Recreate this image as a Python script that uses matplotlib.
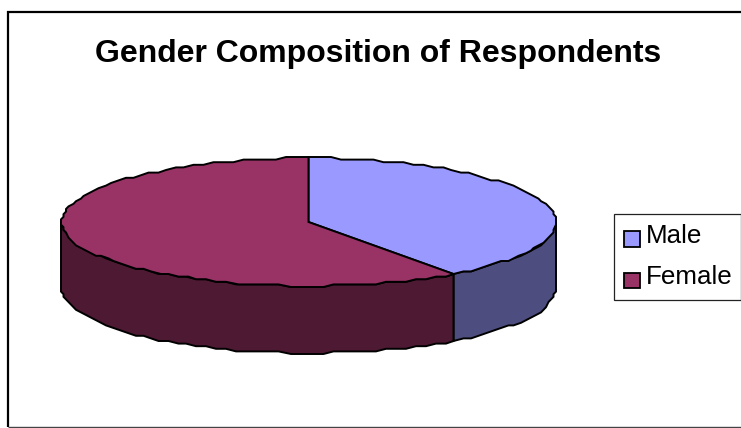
import numpy as np
import matplotlib
matplotlib.use('Agg')
import matplotlib.pyplot as plt
from matplotlib.patches import Polygon, Rectangle

plt.rcParams['font.family'] = ['Liberation Sans', 'DejaVu Sans']

labels = ['Male', 'Female']
values = [40, 60]
top_colors = ['#9999FF', '#993366']
side_colors = ['#4D4D80', '#4D1933']

# pie geometry, in pixels
cx, cy = 308.5, 222
rx, ry = 247, 64
depth = 67
seg_deg = 2.5
snap_x, snap_y = 2.5, 2.6


def rim(a0, a1):
    # angles are clockwise from 12 o'clock, snapped to a coarse grid for the rough outline
    n = max(int(abs(a1 - a0) / seg_deg), 1)
    a = np.radians(np.linspace(a0, a1, n + 1))
    x = np.round(rx * np.sin(a) / snap_x) * snap_x
    y = np.round(-ry * np.cos(a) / snap_y) * snap_y
    return np.column_stack([cx + x, cy + y])


fig = plt.figure(figsize=(7.41, 4.28), dpi=100)
ax = fig.add_axes([0, 0, 1, 1])
ax.set_xlim(0, 741)
ax.set_ylim(428, 0)
ax.axis('off')

# outer frame: heavy left and top, thin grey bottom
ax.plot([8, 8], [11, 427], color='black', linewidth=1.6, solid_capstyle='butt')
ax.plot([7, 741], [12, 12], color='black', linewidth=1.6, solid_capstyle='butt')
ax.plot([8, 741], [426.8, 426.8], color='#444444', linewidth=1.0, solid_capstyle='butt')

ax.text(378.5, 54, 'Gender Composition of Respondents', ha='center', va='center',
        fontsize=23, fontweight='bold', color='black')

angles = 360 * np.cumsum([0] + values) / np.sum(values)

# side walls first, only the front half of the rim is visible
for i in range(len(values)):
    a0, a1 = max(angles[i], 90), min(angles[i + 1], 270)
    if a1 <= a0:
        continue
    edge = rim(a0, a1)
    wall = np.vstack([edge, (edge + [0, depth])[::-1]])
    ax.add_patch(Polygon(wall, closed=True, facecolor=side_colors[i],
                         edgecolor='black', linewidth=1.4, joinstyle='miter'))

# top faces
for i in range(len(values)):
    top = np.vstack([[cx, cy], rim(angles[i], angles[i + 1])])
    ax.add_patch(Polygon(top, closed=True, facecolor=top_colors[i],
                         edgecolor='black', linewidth=1.4, joinstyle='miter'))

# legend box
ax.add_patch(Rectangle((614, 214), 127, 86, facecolor='white', edgecolor='#222222', linewidth=0.9))
for i, name in enumerate(labels):
    y = 238.5 + i * 41.5
    ax.add_patch(Rectangle((624, y - 7.5), 15.5, 15.5, facecolor=top_colors[i],
                           edgecolor='black', linewidth=1.3))
    ax.text(646, y - 3, name, ha='left', va='center', fontsize=18.7, color='black')

fig.savefig('out.png', dpi=100)
